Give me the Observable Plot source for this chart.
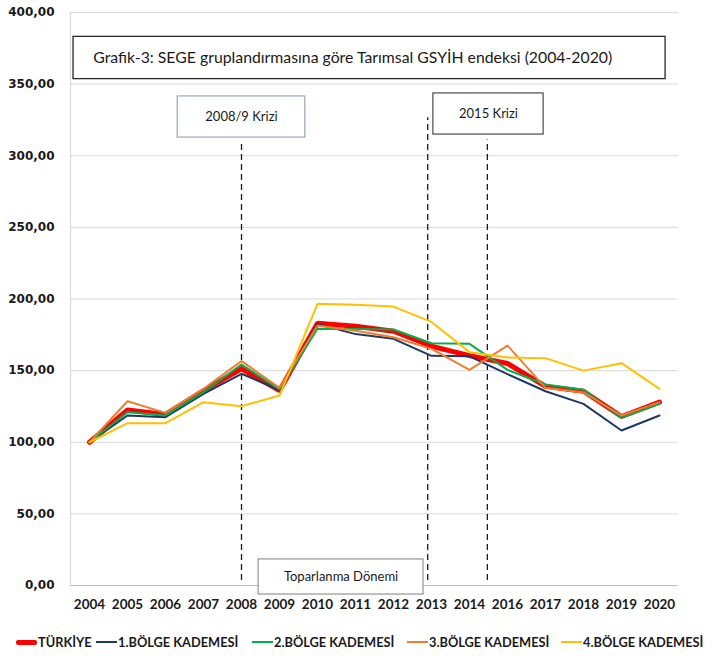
<!DOCTYPE html>
<html>
<head>
<meta charset="utf-8">
<script src="https://cdn.jsdelivr.net/npm/d3@7"></script>
<script src="https://cdn.jsdelivr.net/npm/@observablehq/plot@0.6"></script>
<style>
  body { margin: 0; background: #fff; font-family: Lato, "Open Sans", sans-serif; }
  #wrap { position: relative; width: 713px; height: 659px; }
  #legend { position: absolute; left: 0; top: 625px; width: 713px; height: 34px; overflow: hidden; }
  .item { position: absolute; top: 9px; display: flex; align-items: center; white-space: nowrap;
          font: bold 12.8px Lato, sans-serif; color: #1a1a1a; }
  .sw { display: inline-block; width: 21px; margin-right: 1px; }
  .yax text { font-family: "DejaVu Sans", Verdana, sans-serif; }
</style>
</head>
<body>
<div id="wrap"><div id="chart"></div><div id="legend"></div></div>
<script>
const years = ["2004","2005","2006","2007","2008","2009","2010","2011","2012","2013","2014","2016","2017","2018","2019","2020"];
const seriesNames = ["TÜRKİYE","1.BÖLGE KADEMESİ","2.BÖLGE KADEMESİ","3.BÖLGE KADEMESİ","4.BÖLGE KADEMESİ"];
const turkiye = [100,122.6,119.4,136,151.3,136,183,181,177.5,167,160.5,155,139,135.6,118,128];
const bolge1  = [100,118.7,117.5,133.8,147.8,136.5,182.6,175.5,172.2,160.3,160,147.5,135.6,126.8,108.2,118.7];
const bolge2  = [100,121,118.7,135,154.3,136.8,179.2,179,178.7,169.1,168.7,150.5,140.3,136.6,117,126.8];
const bolge3  = [100,128.6,120.5,137.3,156.6,138,181.5,177.8,173.3,165.2,150.5,167.5,138,134.7,118.7,128];
const bolge4  = [100,113.3,113.3,128,125.2,132.6,196.6,196,194.7,184,162.9,159.2,158.7,150,155.2,137.3];
const yTicks = [0,50,100,150,200,250,300,350,400];

const colors = ["#ff0000","#1f3864","#00b050","#ed7d31","#ffc000"];
const widths = [5,2,2,2,2];
const allSeries = [turkiye,bolge1,bolge2,bolge3,bolge4];

const rows = [];
allSeries.forEach((arr, s) => arr.forEach((v, i) => rows.push({s: seriesNames[s], i, v})));

const fmt = d => d.toFixed(2).replace(".", ",");
const font = "Lato, sans-serif";

const lineMarks = seriesNames.map((name, s) =>
  Plot.line(rows.filter(r => r.s === name), {x: "i", y: "v", stroke: colors[s], strokeWidth: widths[s], strokeLinejoin: "miter"})
);

const chart = Plot.plot({
  width: 713, height: 625,
  marginLeft: 70, marginRight: 35, marginTop: 12, marginBottom: 40,
  style: {fontFamily: font, background: "#fff", overflow: "visible"},
  x: {type: "linear", domain: [-0.5, 15.5]},
  y: {domain: [0, 400]},
  marks: [
    Plot.gridY(yTicks, {stroke: "#d9d9d9", strokeOpacity: 1, strokeWidth: 1}),
    Plot.ruleY([0], {stroke: "#bfbfbf", strokeWidth: 1.2}),
    Plot.ruleX([-0.5], {y1: 0, y2: 400, stroke: "#d9d9d9", strokeWidth: 1.2}),
    Plot.axisY({ticks: yTicks, tickFormat: fmt, tickSize: 0, tickPadding: 16, label: null,
      fontSize: 12, fontWeight: "bold", fill: "#1a1a1a", className: "yax"}),
    Plot.axisX({ticks: d3.range(years.length), tickFormat: i => years[i], tickSize: 0, tickPadding: 14, label: null,
      fontSize: 13.5, fontWeight: "bold", fill: "#1a1a1a"}),
    // title box
    Plot.rect([0], {x1: -0.42, x2: 15.16, y1: 353.5, y2: 383, fill: "#fff", stroke: "#262626", strokeWidth: 1.3}),
    Plot.text(["Grafik-3: SEGE gruplandırmasına göre Tarımsal GSYİH endeksi (2004-2020)"],
      {x: 0.1, y: 368.5, textAnchor: "start", fontSize: 15.8, fill: "#1a1a1a"}),
    // crisis boxes
    Plot.rect([0], {x1: 2.32, x2: 5.68, y1: 312.7, y2: 341.4, fill: "#fff", stroke: "#8497b0", strokeWidth: 1}),
    Plot.text(["2008/9 Krizi"], {x: 4, y: 327, fontSize: 13, fill: "#1a1a1a"}),
    Plot.rect([0], {x1: 9.05, x2: 11.95, y1: 314.8, y2: 343.5, fill: "#fff", stroke: "#262626", strokeWidth: 1}),
    Plot.text(["2015 Krizi"], {x: 10.5, y: 329.5, fontSize: 13, fill: "#1a1a1a"}),
    // dashed period lines
    Plot.ruleX([4], {y1: 3.5, y2: 308.5, stroke: "#1a1a1a", strokeWidth: 1.3, strokeDasharray: "6,4"}),
    Plot.ruleX([8.9], {y1: 3.5, y2: 326.5, stroke: "#1a1a1a", strokeWidth: 1.3, strokeDasharray: "6,4"}),
    Plot.ruleX([10.47], {y1: 3.5, y2: 311, stroke: "#1a1a1a", strokeWidth: 1.3, strokeDasharray: "6,4"}),
    // series
    ...lineMarks,
    // recovery box
    Plot.rect([0], {x1: 4.45, x2: 8.79, y1: -6.3, y2: 18.2, fill: "#fff", stroke: "#7f7f7f", strokeWidth: 1, clip: false}),
    Plot.text(["Toparlanma Dönemi"], {x: 6.62, y: 5.8, fontSize: 13, fill: "#1a1a1a"})
  ]
});
document.getElementById("chart").appendChild(chart);

const legendLeft = [16, 96, 252, 407, 561];
const legend = document.getElementById("legend");
seriesNames.forEach((name, s) => {
  const item = document.createElement("div");
  item.className = "item";
  item.style.left = legendLeft[s] + "px";
  const sw = document.createElement("span");
  sw.className = "sw";
  sw.style.height = (s === 0 ? 5 : 2) + "px";
  sw.style.background = colors[s];
  if (s === 0) sw.style.borderRadius = "2px";
  item.appendChild(sw);
  const t = document.createElement("span");
  t.textContent = name;
  item.appendChild(t);
  legend.appendChild(item);
});
</script>
</body>
</html>
